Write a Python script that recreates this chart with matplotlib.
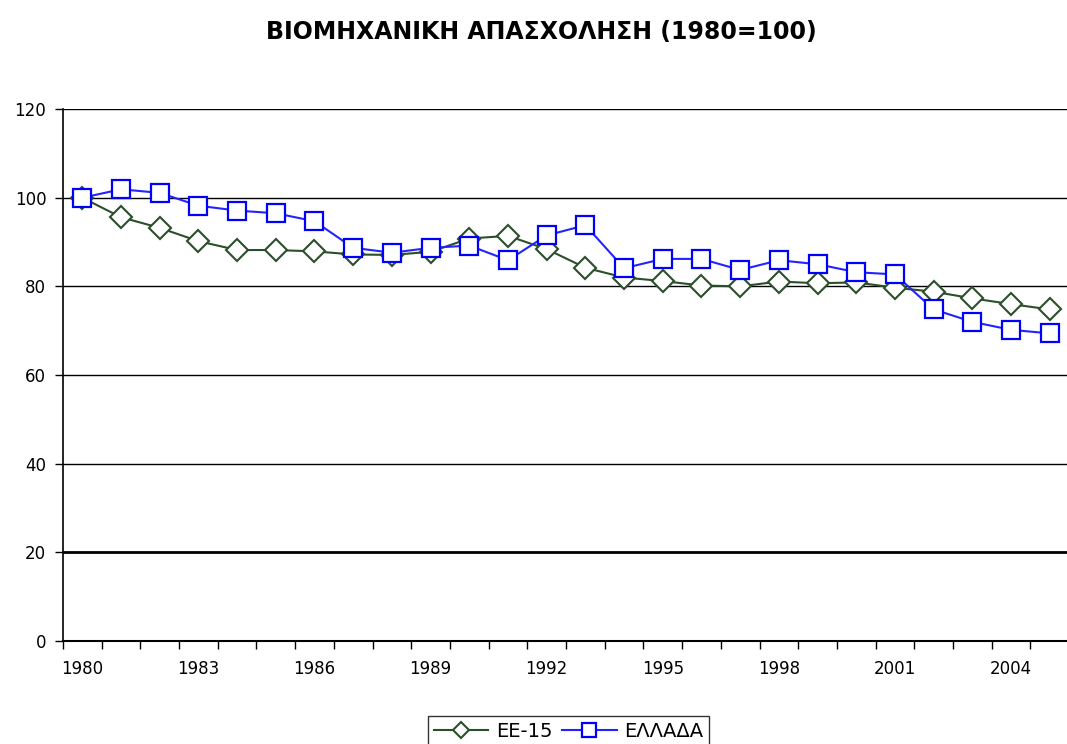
import matplotlib
matplotlib.use("Agg")
import matplotlib.pyplot as plt
import numpy as np

years = list(range(1980, 2006))
ee15 = [100, 95.6, 93.2, 90.2, 88.2, 88.2, 87.9, 87.2, 87.1, 87.8, 90.8, 91.4, 88.4,
        84.2, 82.0, 81.2, 80.2, 80.0, 81.1, 80.7, 80.9, 79.7, 78.8, 77.3, 76.0, 74.8]
greece = [100, 101.9, 101.1, 98.2, 97.1, 96.5, 94.7, 88.7, 87.6, 88.7, 89.2, 85.9, 91.5,
          93.8, 84.1, 86.2, 86.2, 83.7, 85.9, 85.0, 83.2, 82.7, 74.8, 72.0, 70.2, 69.4]
label_years = [1980, 1983, 1986, 1989, 1992, 1995, 1998, 2001, 2004]
yticks = [0, 20, 40, 60, 80, 100, 120]
title = "ΒΙΟΜΗΧΑΝΙΚΗ ΑΠΑΣΧΟΛΗΣΗ (1980=100)"
names = ["ΕΕ-15", "ΕΛΛΑΔΑ"]

plt.rcParams['font.family'] = ['DejaVu Sans']
fig = plt.figure(figsize=(10.67, 7.44), dpi=100)
ax = fig.add_axes([0.059, 0.1384, 0.943, 0.715])

x = np.arange(len(years))
for yv in yticks[1:]:
    ax.axhline(yv, color='black', lw=1.0 if yv != 20 else 2.0, zorder=1)

ax.plot(x, ee15, color='#2B4F2B', lw=1.5, marker='D', markersize=11,
        markerfacecolor='white', markeredgecolor='#2B4F2B', markeredgewidth=1.5,
        label=names[0], zorder=3)
ax.plot(x, greece, color='#2323FF', lw=1.5, marker='s', markersize=12.5,
        markerfacecolor='white', markeredgecolor='#0000FF', markeredgewidth=1.6,
        label=names[1], zorder=4)

ax.set_xlim(-0.5, len(years) - 0.5)
ax.set_ylim(0, 120)
ax.set_yticks(yticks)
ax.set_yticklabels([str(v) for v in yticks], fontsize=12)
ax.set_xticks(np.arange(len(years) + 1) - 0.5)
ax.set_xticklabels([])
ax.set_xticks([years.index(yr) for yr in label_years], minor=True)
ax.set_xticklabels([str(yr) for yr in label_years], minor=True, fontsize=12)
ax.tick_params(axis='x', which='major', direction='out', length=6, width=1, color='black')
ax.tick_params(axis='x', which='minor', length=0, pad=14)
ax.tick_params(axis='y', direction='out', length=6, width=1, pad=6)

for s in ['top', 'right']:
    ax.spines[s].set_visible(False)
ax.spines['left'].set_linewidth(1.2)
ax.spines['bottom'].set_linewidth(1.5)

fig.text(0.507, 0.957, title, ha='center', va='center', fontsize=17, fontweight='bold')

leg = fig.legend(loc='center', bbox_to_anchor=(0.533, 0.017), ncol=2, frameon=True,
                 fontsize=14, fancybox=False, edgecolor='black', handlelength=2.8,
                 columnspacing=0.5, handletextpad=0.4, markerscale=0.75,
                 borderpad=0.3)
leg.get_frame().set_linewidth(1.0)

fig.savefig("out.png", dpi=100)
